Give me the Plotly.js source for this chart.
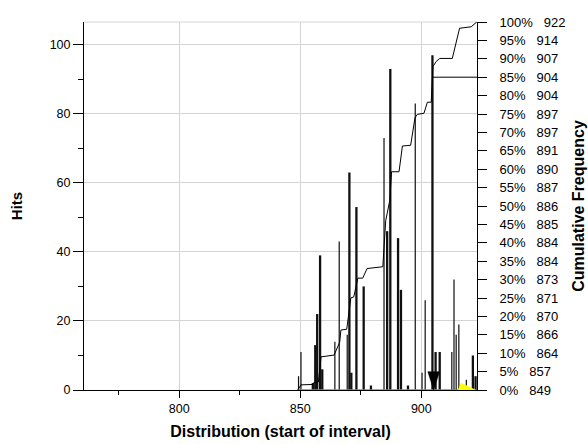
<!DOCTYPE html>
<html>
<head>
<meta charset="utf-8">
<script src="https://cdn.plot.ly/plotly-3.0.1.min.js"></script>
<style>
html,body{margin:0;padding:0;background:#fff;}
#chart{width:588px;height:444px;}
</style>
</head>
<body>
<div id="chart"></div>
<script>
// Thick histogram bars (start of interval, hits)
const thickX = [855.2, 856.2, 857.0, 858.2, 859.1, 870.3, 871.1, 873.2, 876.2, 879.2, 885.9, 887.2, 890.4, 891.6, 894.5, 904.6, 905.9, 907.6, 921.3, 922.4];
const thickY = [2, 13, 22, 39, 6, 63, 5, 53, 30, 1.3, 46, 93, 44, 29, 1.3, 97, 11, 11, 10, 4];
// Thin histogram bars
const thinX = [849.3, 850.3, 864.3, 866.1, 869.4, 884.6, 897.5, 900.3, 901.6, 912.6, 913.5, 914.4, 915.5, 918.6];
const thinY = [4, 11, 14, 43, 16, 73, 83, 5, 26, 11, 32, 16, 19, 3];
// Cumulative frequency curve (percent)
const cumX = [849.0, 850.3, 855.1, 855.6, 857.5, 858.6, 864.0, 866.3, 866.8, 869.2, 870.9, 872.1, 873.8, 875.8, 877.6, 884.1, 885.3, 887.0, 887.7, 890.8, 892.2, 895.6, 897.4, 898.4, 901.1, 902.5, 904.1, 904.8, 906.2, 907.6, 912.8, 915.8, 920.6, 922.9];
const cumY = [0, 1.4, 1.5, 2.0, 2.2, 9.0, 9.5, 13.0, 16.3, 16.5, 25.0, 25.3, 30.4, 30.4, 33.0, 33.5, 46.0, 51.6, 59.3, 59.3, 66.3, 66.5, 74.0, 74.9, 75.2, 78.2, 78.2, 87.9, 89.3, 90.1, 90.1, 98.3, 98.7, 100];
// 85% marker line
const markX = [904.6, 923];
const markY = [85, 85];
// Down arrow marker near 905 (hits)
const arrowX = [902.7, 907.5, 905.1, 902.7];
const arrowY = [5.3, 5.3, 0, 5.3];
// Yellow wedge near the end
const yellowX = [915.2, 916.5, 922.4, 915.2];
const yellowY = [0, 2, 0, 0];
// Baseline under the data
const baseX = [849, 922.4];
const baseY = [0, 0];
// Right axis labels
const pctTicks = [0, 5, 10, 15, 20, 25, 30, 35, 40, 45, 50, 55, 60, 65, 70, 75, 80, 85, 90, 95, 100];
const pctValues = [849, 857, 864, 866, 870, 871, 873, 884, 884, 885, 886, 887, 890, 891, 897, 897, 904, 904, 907, 914, 922];
const rightLabels = pctTicks.map((p, i) => p + '%\u00a0\u00a0\u00a0' + pctValues[i]);

const FONT = 'Arial, "Liberation Sans", sans-serif';

const traces = [
  {type: 'bar', x: thinX, y: thinY, width: 0.5, marker: {color: '#111', line: {width: 0}}, hoverinfo: 'skip', xaxis: 'x', yaxis: 'y'},
  {type: 'bar', x: thickX, y: thickY, width: 0.95, marker: {color: '#111', line: {width: 0}}, hoverinfo: 'skip', xaxis: 'x', yaxis: 'y'},
  {type: 'scatter', mode: 'lines', x: baseX, y: baseY, line: {color: '#8f8f3a', width: 1.5}, cliponaxis: false, hoverinfo: 'skip', xaxis: 'x', yaxis: 'y'},
  {type: 'scatter', mode: 'lines', x: yellowX, y: yellowY, fill: 'toself', fillcolor: '#ffff00', line: {color: '#ffff00', width: 0.5}, hoverinfo: 'skip', xaxis: 'x', yaxis: 'y'},
  {type: 'scatter', mode: 'lines', x: arrowX, y: arrowY, fill: 'toself', fillcolor: '#000', line: {color: '#000', width: 0.5}, hoverinfo: 'skip', xaxis: 'x', yaxis: 'y'},
  {type: 'scatter', mode: 'lines', x: cumX, y: cumY, line: {color: '#000', width: 1}, hoverinfo: 'skip', xaxis: 'x', yaxis: 'y2'},
  {type: 'scatter', mode: 'lines', x: markX, y: markY, line: {color: '#000', width: 1}, cliponaxis: false, hoverinfo: 'skip', xaxis: 'x', yaxis: 'y2'}
];

const layout = {
  width: 588, height: 444,
  margin: {l: 84, r: 111, t: 22, b: 54},
  paper_bgcolor: '#fff', plot_bgcolor: '#fff',
  showlegend: false,
  barmode: 'overlay',
  font: {family: FONT, size: 12.5, color: '#000'},
  xaxis: {
    range: [760.7, 923], tickvals: [800, 850, 900], ticktext: ['800', '850', '900'],
    ticks: 'outside', ticklen: 7, tickcolor: '#000', tickwidth: 1,
    minor: {tickvals: [775, 825, 875], ticks: 'outside', ticklen: 4, tickcolor: '#000', showgrid: false},
    showline: true, linecolor: '#000', linewidth: 1,
    showgrid: true, gridcolor: '#d4d4d4', gridwidth: 1, zeroline: false,
    tickfont: {family: FONT, size: 12.5, color: '#000'},
    title: {text: 'Distribution (start of interval)', font: {family: FONT, size: 16, color: '#000', weight: 'bold'}, standoff: 10},
    layer: 'below traces'
  },
  yaxis: {
    range: [0, 106.6], tickvals: [0, 20, 40, 60, 80, 100],
    ticks: 'outside', ticklen: 10, tickcolor: '#000', tickwidth: 1,
    minor: {tickvals: [10, 30, 50, 70, 90], ticks: 'outside', ticklen: 5, tickcolor: '#000', showgrid: false},
    showline: true, linecolor: '#000', linewidth: 1,
    showgrid: true, gridcolor: '#d4d4d4', gridwidth: 1, zeroline: false,
    tickfont: {family: FONT, size: 12.5, color: '#000'},
    title: {text: 'Hits', font: {family: FONT, size: 15, color: '#000', weight: 'bold'}, standoff: 23}
  },
  yaxis2: {
    overlaying: 'y', side: 'right', anchor: 'x',
    range: [0, 100], tickvals: pctTicks, ticktext: rightLabels,
    ticks: 'outside', ticklen: 9, tickcolor: '#000', tickwidth: 1,
    ticklabelstandoff: 10,
    showline: true, linecolor: '#000', linewidth: 1,
    showgrid: false, zeroline: false,
    tickfont: {family: FONT, size: 13, color: '#000'},
    title: {text: 'Cumulative Frequency', font: {family: FONT, size: 16, color: '#000', weight: 'bold'}, standoff: 8}
  },
  shapes: [
    {type: 'line', xref: 'paper', yref: 'paper', x0: 0, x1: 1, y0: 1, y1: 1, line: {color: '#d4d4d4', width: 1}, layer: 'below'}
  ]
};

Plotly.newPlot('chart', traces, layout, {staticPlot: true, displayModeBar: false});
</script>
</body>
</html>
